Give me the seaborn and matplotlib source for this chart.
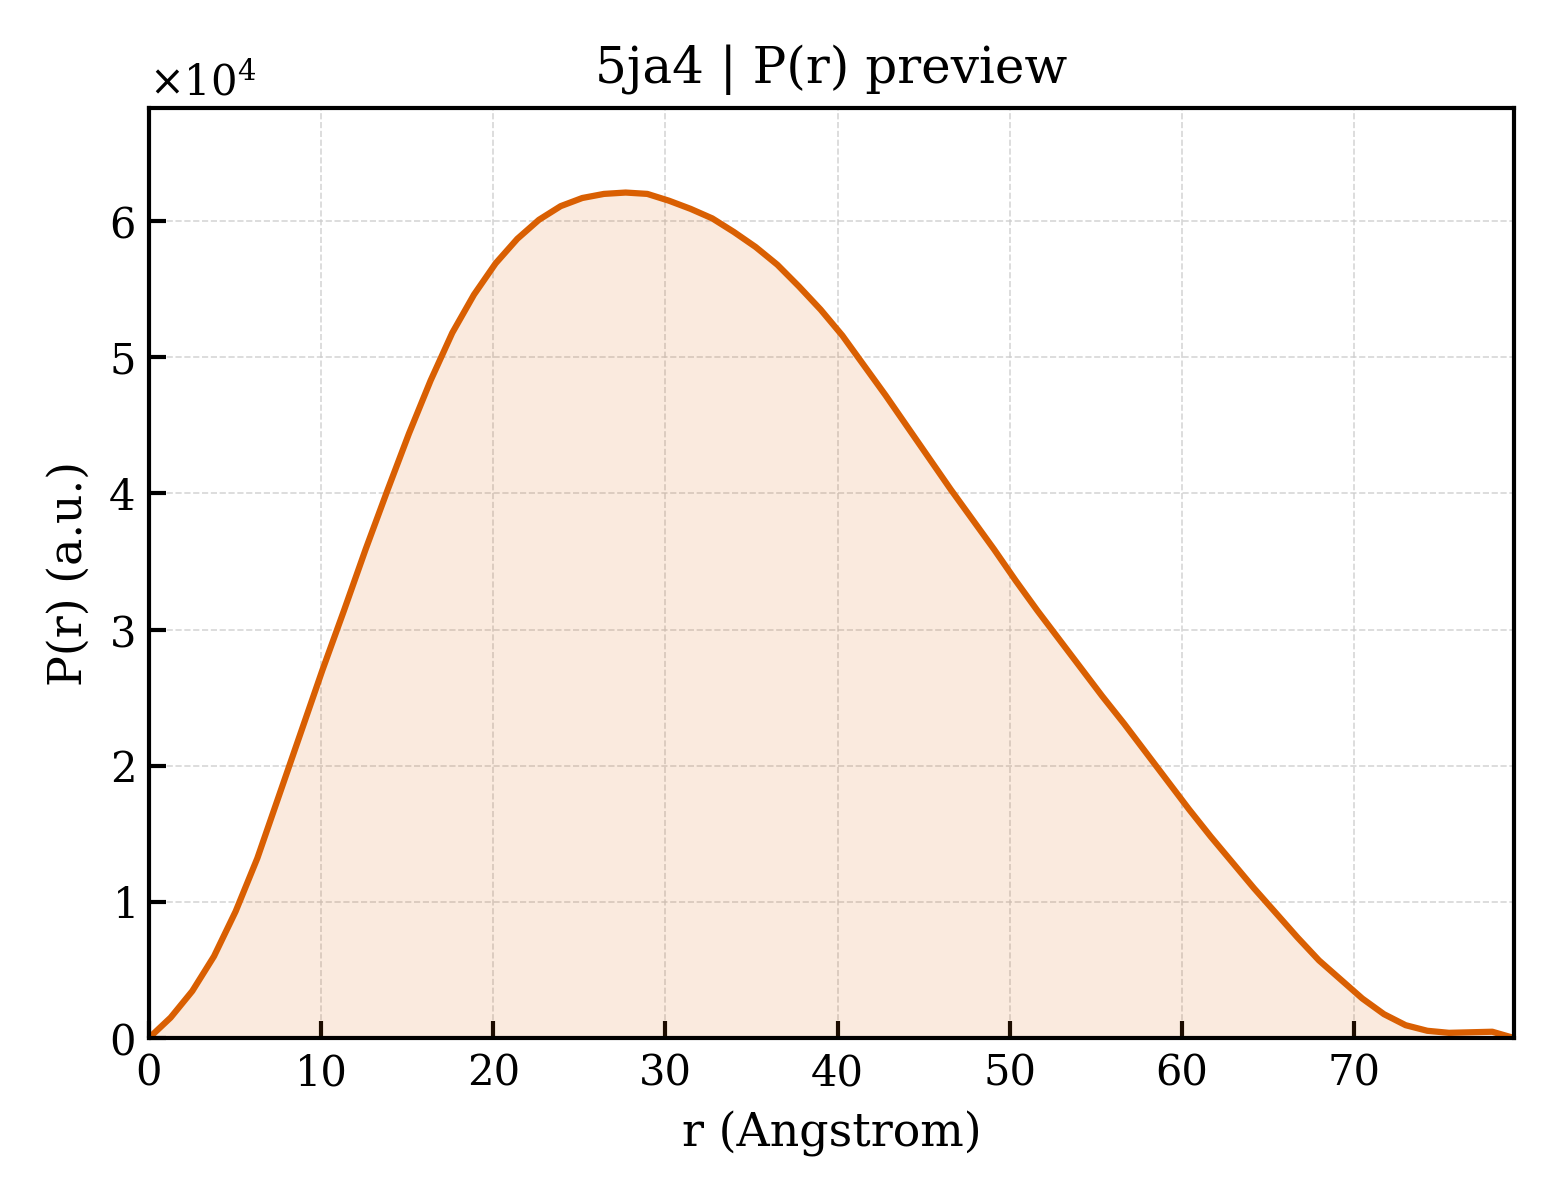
import matplotlib
matplotlib.use("Agg")
import matplotlib.pyplot as plt
import matplotlib.ticker as mticker
import numpy as np
import pandas as pd
import seaborn as sns

# distance grid (Angstrom), 64 points up to Dmax
r_max = 79.3
n_points = 64

p_r_1e4 = [
    0.0, 0.15, 0.345, 0.60, 0.93, 1.32, 1.78, 2.24, 2.70, 3.14,
    3.59, 4.02, 4.44, 4.83, 5.18, 5.46, 5.69, 5.87, 6.01, 6.11,
    6.17, 6.20, 6.21, 6.20, 6.15, 6.09, 6.02, 5.92, 5.81, 5.68,
    5.52, 5.35, 5.16, 4.94, 4.72, 4.49, 4.26, 4.03, 3.81, 3.59,
    3.36, 3.14, 2.93, 2.72, 2.51, 2.31, 2.10, 1.89, 1.68, 1.48,
    1.29, 1.10, 0.92, 0.74, 0.57, 0.43, 0.29, 0.175, 0.094, 0.053,
    0.038, 0.042, 0.046, 0.0,
]

line_color = "#d95f02"

sns.set_style("white")
plt.rcParams["font.family"] = ["DejaVu Serif"]
plt.rcParams["mathtext.fontset"] = "dejavuserif"
plt.rcParams["text.color"] = "black"
plt.rcParams["axes.labelcolor"] = "black"
plt.rcParams["xtick.color"] = "black"
plt.rcParams["ytick.color"] = "black"

r = np.linspace(0, r_max, n_points)
df = pd.DataFrame({"r": r, "P": np.array(p_r_1e4) * 1e4})

fig, ax = plt.subplots(figsize=(5.2, 4.0), dpi=300)
fig.subplots_adjust(left=0.0955, right=0.9705, bottom=0.135, top=0.91)

ax.fill_between(df["r"], df["P"], color=line_color, alpha=0.13, linewidth=0)
sns.lineplot(data=df, x="r", y="P", color=line_color, linewidth=1.5, ax=ax, sort=False)

ax.set_xlim(0, r_max)
ax.set_ylim(0, df["P"].max() * 1.1)

fmt = mticker.ScalarFormatter(useMathText=True)
fmt.set_powerlimits((0, 0))
ax.yaxis.set_major_formatter(fmt)
ax.yaxis.get_offset_text().set_fontsize(10)

ax.grid(True, linestyle="--", linewidth=0.4, color="#cccccc", alpha=0.8)
ax.tick_params(direction="in", length=4, width=1.0, labelsize=10,
               bottom=True, left=True, top=False, right=False)
for sp in ax.spines.values():
    sp.set_linewidth(1.0)
    sp.set_color("black")

ax.set_xlabel("r (Angstrom)", fontsize=11)
ax.set_ylabel("P(r) (a.u.)", fontsize=11)
ax.set_title("5ja4 | P(r) preview", fontsize=12)

plt.savefig("out.png", dpi=300)
